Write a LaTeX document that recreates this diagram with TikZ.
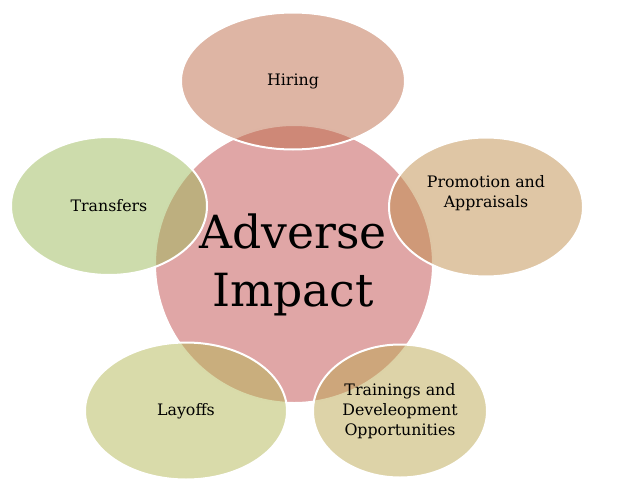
\documentclass[tikz,border=0pt]{standalone}
\usepackage{fontspec}
\setmainfont{DejaVu Serif}
\usetikzlibrary{shapes.geometric}

\definecolor{impactpink}{HTML}{E0A6A6}
\definecolor{hiringred}{HTML}{BD6B49}
\definecolor{transfergreen}{HTML}{9BB959}
\definecolor{promotan}{HTML}{BF8D4B}
\definecolor{layoffolive}{HTML}{B3B755}
\definecolor{trainkhaki}{HTML}{BBA751}

\tikzset{
  bubble/.style={ellipse, draw=white, line width=0.6mm, fill opacity=0.5,
    draw opacity=1, text opacity=1, inner sep=0pt, align=center,
    font=\fontsize{13.5}{17}\selectfont},
  every label/.style={align=center, text opacity=1, fill opacity=1,
    font=\fontsize{13.5}{17}\selectfont}
}

\begin{document}
\begin{tikzpicture}[x=0.3mm, y=-0.3mm]
	\useasboundingbox (0,0) rectangle (624,492);
	\node[circle, fill=impactpink, draw=white, line width=0.6mm, minimum size=83.4mm] (impact) at (294,264) {};
	\node[bubble, fill=hiringred, minimum width=67.2mm, minimum height=41.1mm] (hiring) at (293,81) {Hiring};
	\node[bubble, fill=transfergreen, minimum width=58.8mm, minimum height=41.4mm] (transfers) at (109,206) {Transfers};
	\node[bubble, fill=promotan, minimum width=58.2mm, minimum height=41.7mm,
		label={[yshift=4.2mm]center:Promotion and\\Appraisals}] (promotion) at (486,207) {};
	\node[bubble, fill=layoffolive, minimum width=60.6mm, minimum height=41.1mm] (layoffs) at (186,411) {Layoffs};
	\node[bubble, fill=trainkhaki, minimum width=52.2mm, minimum height=39.9mm] (trainings) at (400,411) {Trainings and\\Develeopment\\Opportunities};
	\node[font=\fontsize{39}{49}\selectfont, align=center] (title) at (293,265) {Adverse\\Impact};
\end{tikzpicture}
\end{document}
